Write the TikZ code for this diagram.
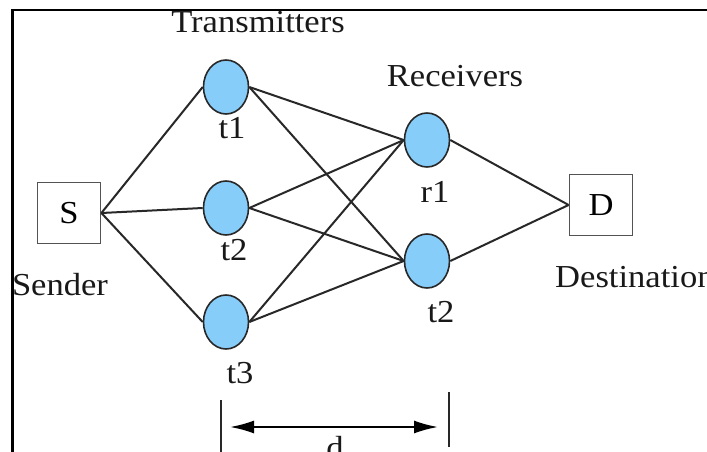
\documentclass[tikz,border=0pt]{standalone}
\usepackage{fontspec}
\setmainfont[FakeStretch=1.08]{Liberation Serif}
\usetikzlibrary{shapes.geometric,arrows.meta}
\definecolor{nodeblue}{RGB}{135,205,250}
\definecolor{ink}{RGB}{40,40,40}
\tikzset{
  bigtext/.style={font=\fontsize{32}{38}\selectfont, text=black!90, inner sep=0pt},
  lbl/.style={bigtext, anchor=base},
  station/.style={ellipse, draw=ink, line width=1.6pt, fill=nodeblue, minimum width=45pt, minimum height=54pt, inner sep=0pt},
  endbox/.style={rectangle, draw=ink!80, line width=1.8pt, minimum width=63pt, minimum height=61pt, inner sep=0pt, font=\fontsize{32}{38}\selectfont},
  link/.style={draw=ink, line width=2pt},
  framepart/.style={draw=black, line width=2.2pt},
  tick/.style={draw=ink, line width=2pt},
  dimarrow/.style={draw=black, line width=2pt, {Latex[length=24pt,width=13pt]}-{Latex[length=24pt,width=13pt]}}
}
\begin{document}
\begin{tikzpicture}[x=1pt,y=-1pt]
\useasboundingbox (0,0) rectangle (707,452);
\clip (0,0) rectangle (707,452);
% frame
\coordinate (fbl) at (12.5,460);
\coordinate (ftl) at (12.5,10);
\coordinate (ftr) at (715,10);
\draw[framepart] (fbl) -- (ftl) -- (ftr);
% nodes
\node[endbox] (S) at (69,213) {S};
\node[endbox] (D) at (601,205) {D};
\node[station] (t1) at (226,87) {};
\node[station] (t2) at (226,208) {};
\node[station] (t3) at (226,322) {};
\node[station] (r1) at (427,140) {};
\node[station] (r2) at (427,261) {};
% connectors
\draw[link] (S.east) -- (t1.west);
\draw[link] (S.east) -- (t2.west);
\draw[link] (S.east) -- (t3.west);
\draw[link] (t1.east) -- (r1.west);
\draw[link] (t1.east) -- (r2.west);
\draw[link] (t2.east) -- (r1.west);
\draw[link] (t2.east) -- (r2.west);
\draw[link] (t3.east) -- (r1.west);
\draw[link] (t3.east) -- (r2.west);
\draw[link] (r1.east) -- (D.west);
\draw[link] (r2.east) -- (D.west);
% labels
\node[lbl] (ltrans) at (258,33) {Transmitters};
\node[lbl] (lrecv) at (455,87) {Receivers};
\node[lbl] (lt1) at (232,138) {t1};
\node[lbl] (lt2) at (234,260) {t2};
\node[lbl] (lt3) at (240,383) {t3};
\node[lbl] (lr1) at (435,202) {r1};
\node[lbl] (lr2) at (441,322) {t2};
\node[lbl] (lsend) at (60,295) {Sender};
\node[bigtext, anchor=base west] (ldest) at (555,287) {Destination};
% dimension
\coordinate (la) at (221,400);
\coordinate (lb) at (221,460);
\coordinate (ra) at (449,392);
\coordinate (rb) at (449,447);
\draw[tick] (la) -- (lb);
\draw[tick] (ra) -- (rb);
\coordinate (al) at (230,427);
\coordinate (ar) at (438,427);
\draw[dimarrow] (al) -- (ar);
\node[bigtext, anchor=north] (ld) at (335,436) {d};
\end{tikzpicture}
\end{document}
